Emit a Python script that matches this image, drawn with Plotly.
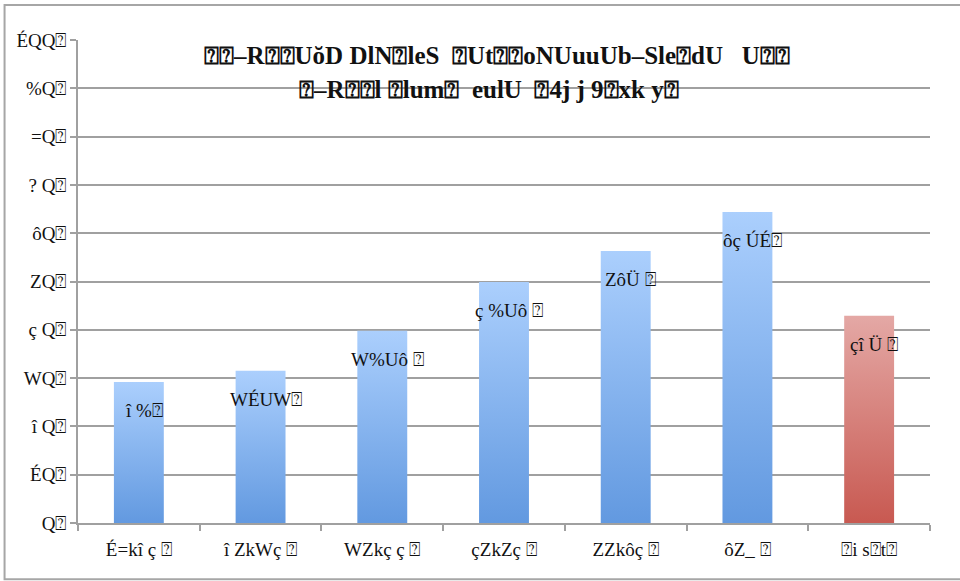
import plotly.graph_objects as go

categories = ["É=kî ç ⍰", "î ZkWç ⍰", "WZkç ç ⍰", "çZkZç ⍰", "ZZkôç ⍰", "ôZ_ ⍰", "⍰i s⍰t⍰"]
values = [29.2, 31.5, 39.8, 49.9, 56.3, 64.4, 42.9]
bar_labels = ["î %⍰", "WÉUW⍰", "W%Uô ⍰", "ç %Uô ⍰", "ZôÜ ⍰", "ôç ÚÉ⍰", "çî Ü ⍰"]
bar_kind = ["blue", "blue", "blue", "blue", "blue", "blue", "red"]
ytick_vals = [0, 10, 20, 30, 40, 50, 60, 70, 80, 90, 100]
ytick_text = ["Q⍰", "ÉQ⍰", "î Q⍰", "WQ⍰", "ç Q⍰", "ZQ⍰", "ôQ⍰", "? Q⍰", "=Q⍰", "%Q⍰", "ÉQQ⍰"]
title_line1 = "⍰⍰–R⍰⍰UŏD DlN⍰leS  ⍰Ut⍰⍰oNUuuUb–Sle⍰dU   U⍰⍰"
title_line2 = "⍰–R⍰⍰l ⍰lum⍰  eulU  ⍰4j j 9⍰xk y⍰"

gradients = {
    "blue": [[0, "#6299e0"], [1, "#abcffd"]],
    "red": [[0, "#c85951"], [1, "#e4a8a5"]],
}
BAR_W = 0.41
FONT = "Liberation Serif"

fig = go.Figure()
for i, (v, kind) in enumerate(zip(values, bar_kind)):
    x0, x1 = i - BAR_W / 2, i + BAR_W / 2
    fig.add_trace(go.Scatter(
        x=[x0, x1, x1, x0, x0], y=[0, 0, v, v, 0],
        mode="lines", line=dict(width=0), fill="toself",
        fillgradient=dict(type="vertical", colorscale=gradients[kind], start=0, stop=v),
        hoverinfo="skip", showlegend=False,
    ))
    fig.add_annotation(x=i, y=v, text=bar_labels[i], showarrow=False,
                       yanchor="top", yshift=-16, xshift=5,
                       font=dict(family=FONT, size=19, color="#111"))

fig.add_annotation(xref="paper", yref="paper", x=0.492, y=0.968, text="<b>" + title_line1 + "</b>",
                   showarrow=False, font=dict(family=FONT, size=25, color="#111"),
                   xanchor="center", yanchor="middle")
fig.add_annotation(xref="paper", yref="paper", x=0.482, y=0.898, text="<b>" + title_line2 + "</b>",
                   showarrow=False, font=dict(family=FONT, size=25, color="#111"),
                   xanchor="center", yanchor="middle")

# outer border
fig.add_shape(type="rect", xref="paper", yref="paper",
              x0=-0.0862, x1=1.05, y0=-0.1165, y1=1.0725,
              line=dict(color="#a6a6a6", width=2), fillcolor="rgba(0,0,0,0)", layer="below")

fig.update_layout(
    width=960, height=581,
    margin=dict(l=78, r=30, t=39.5, b=58, autoexpand=False),
    paper_bgcolor="white", plot_bgcolor="white",
    font=dict(family=FONT, size=19, color="#111"),
    xaxis=dict(
        range=[-0.5, 6.5], tickvals=list(range(len(categories))), ticktext=categories,
        showgrid=False, zeroline=False, showline=True, linecolor="#a0a0a0", linewidth=1.5,
        ticks="", ticklabelstandoff=8, automargin=False,
        tickfont=dict(family=FONT, size=19, color="#111"),
        minor=dict(tick0=0.5, dtick=1, ticks="outside", ticklen=6, tickcolor="#a0a0a0", tickwidth=1.5, showgrid=False),
        fixedrange=True,
    ),
    yaxis=dict(
        range=[0, 100], tickvals=ytick_vals, ticktext=ytick_text,
        showgrid=True, gridcolor="#a0a0a0", gridwidth=1.5, zeroline=False,
        showline=True, linecolor="#a0a0a0", linewidth=1.5, automargin=False,
        ticks="outside", ticklen=6, tickcolor="#a0a0a0", tickwidth=1.5,
        tickfont=dict(family=FONT, size=19, color="#111"),
        fixedrange=True,
    ),
)

fig.write_html("out.html", config={"displayModeBar": False},
               post_script="document.body.style.margin='0px';")
